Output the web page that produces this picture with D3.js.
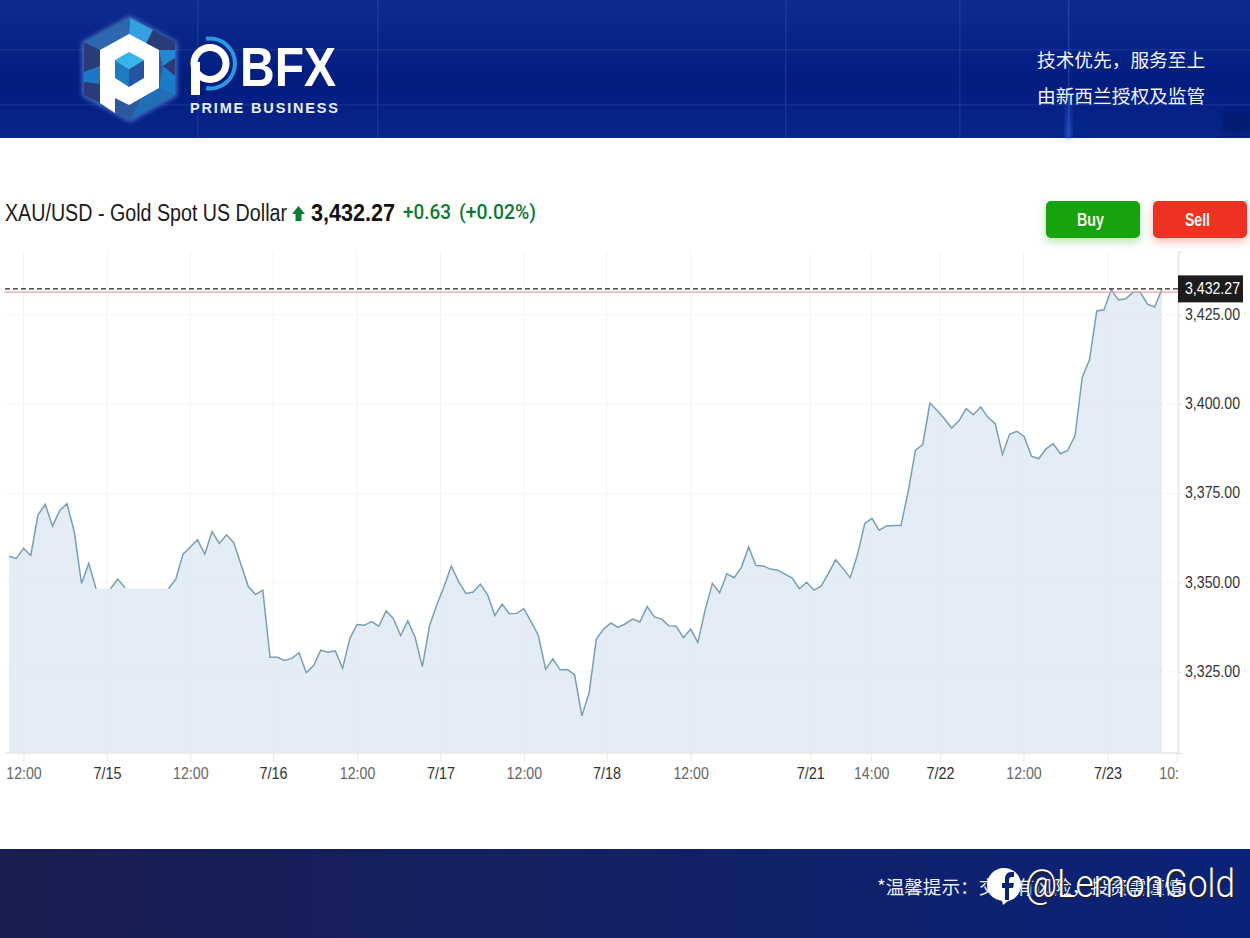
<!DOCTYPE html>
<html>
<head>
<meta charset="utf-8">
<script src="https://d3js.org/d3.v7.min.js"></script>
<style>
    body { margin: 0; background: #fff; }
    svg { display: block; }
    text { font-family: "Liberation Sans", Arial, sans-serif; }
</style>
</head>
<body>
<div id="chart"></div>
<script>
// Hourly XAU/USD closes
var priceValues = [
    3357.4, 3356.8, 3359.6, 3357.6, 3369.0, 3371.9, 3365.9, 3370.2, 3372.1, 3364.3,
    3349.8, 3355.4, 3348.3, 3348.3, 3348.3, 3351.0, 3348.6, 3348.3, 3348.3, 3348.3,
    3348.3, 3348.3, 3348.3, 3351.0, 3358.0, 3360.0, 3362.0, 3358.0, 3364.3, 3361.0,
    3363.4, 3361.2, 3355.0, 3348.9, 3346.7, 3347.9, 3329.1, 3329.1, 3328.2, 3328.8,
    3330.4, 3324.8, 3326.8, 3331.1, 3330.5, 3330.9, 3326.0, 3334.4, 3338.3, 3338.1,
    3339.1, 3337.8, 3342.1, 3340.0, 3335.2, 3339.3, 3334.7, 3326.5, 3338.0, 3343.8,
    3348.9, 3354.7, 3350.3, 3347.0, 3347.4, 3349.6, 3346.6, 3340.8, 3344.0, 3341.3,
    3341.4, 3342.7, 3339.1, 3335.2, 3325.8, 3328.7, 3325.6, 3325.7, 3324.2, 3312.7,
    3319.2, 3334.2, 3337.0, 3338.7, 3337.5, 3338.5, 3339.8, 3339.0, 3343.3, 3340.4,
    3339.8, 3337.9, 3337.8, 3334.6, 3337.0, 3333.3, 3342.4, 3349.8, 3347.2, 3352.5,
    3351.4, 3354.3, 3360.0, 3354.8, 3354.7, 3353.8, 3353.5, 3352.4, 3351.3, 3348.3,
    3350.1, 3347.9, 3349.0, 3352.6, 3356.4, 3354.0, 3351.4, 3357.8, 3366.5, 3368.0,
    3364.7, 3365.9, 3366.0, 3366.0, 3375.5, 3387.1, 3388.7, 3400.3, 3398.2, 3395.9,
    3393.3, 3395.3, 3398.7, 3397.0, 3399.2, 3396.3, 3394.5, 3385.9, 3391.6, 3392.4,
    3390.9, 3385.4, 3384.7, 3387.5, 3388.9, 3386.1, 3387.0, 3391.1, 3407.5, 3412.4,
    3426.1, 3426.4, 3432.0, 3429.2, 3429.5, 3431.3, 3431.3, 3428.0, 3427.2, 3432.27
];

// The stroke is missing over the flat stretch, only these index runs have one
var visibleRuns = [[0, 12], [14, 16], [22, 159]];

var xTickIndex = [2, 13.5, 25, 36.4, 48, 59.5, 71, 82.4, 94, 110.5, 118.9, 128.4, 139.9, 151.5, 161];
var xTickLabels = ["12:00", "7/15", "12:00", "7/16", "12:00", "7/17", "12:00", "7/18", "12:00", "7/21", "14:00", "7/22", "12:00", "7/23", "10:00"];
var yTickValues = [3325, 3350, 3375, 3400, 3425];

var lastPrice = 3432.27;
var prevLine = 3431.37;

// Full width comma and colon are written as escapes
var sloganLines = ["技术优先\uFF0C服务至上", "由新西兰授权及监管"];
var footerNote = "*温馨提示\uFF1A交易有风险\uFF0C投资需谨慎";

var svgWidth = 1250;
var svgHeight = 938;

var svg = d3.select("#chart")
    .append("svg")
    .attr("width", svgWidth)
    .attr("height", svgHeight);

var defs = svg.append("defs");

// Header background
var headGrad = defs.append("linearGradient")
    .attr("id", "headGrad")
    .attr("x1", 0).attr("y1", 0).attr("x2", 0).attr("y2", 1);
headGrad.append("stop").attr("offset", "0%").attr("stop-color", "#0b2c8e");
headGrad.append("stop").attr("offset", "60%").attr("stop-color", "#021c80");
headGrad.append("stop").attr("offset", "100%").attr("stop-color", "#08268a");

var footGrad = defs.append("linearGradient")
    .attr("id", "footGrad")
    .attr("x1", 0).attr("y1", 0).attr("x2", 1).attr("y2", 0);
footGrad.append("stop").attr("offset", "0%").attr("stop-color", "#1a1e50");
footGrad.append("stop").attr("offset", "100%").attr("stop-color", "#0a2278");

var glow = defs.append("linearGradient")
    .attr("id", "beam")
    .attr("x1", 0).attr("y1", 0).attr("x2", 0).attr("y2", 1);
glow.append("stop").attr("offset", "0%").attr("stop-color", "#2f62e0").attr("stop-opacity", 0);
glow.append("stop").attr("offset", "100%").attr("stop-color", "#2f62e0").attr("stop-opacity", 0.9);

var blur = defs.append("filter").attr("id", "blur").attr("x", "-30%").attr("y", "-30%").attr("width", "160%").attr("height", "160%");
blur.append("feGaussianBlur").attr("stdDeviation", 2.5);

var greenGlow = defs.append("filter").attr("id", "greenGlow").attr("x", "-20%").attr("y", "-30%").attr("width", "140%").attr("height", "190%");
greenGlow.append("feDropShadow").attr("dx", 0).attr("dy", 4).attr("stdDeviation", 4).attr("flood-color", "#12a30f").attr("flood-opacity", 0.3);
var redGlow = defs.append("filter").attr("id", "redGlow").attr("x", "-20%").attr("y", "-30%").attr("width", "140%").attr("height", "190%");
redGlow.append("feDropShadow").attr("dx", 0).attr("dy", 4).attr("stdDeviation", 4).attr("flood-color", "#ee3124").attr("flood-opacity", 0.3);

defs.append("clipPath").attr("id", "xClip")
    .append("rect").attr("x", 0).attr("y", -5).attr("width", 1178).attr("height", 60);

var header = svg.append("g");
header.append("rect").attr("width", svgWidth).attr("height", 138).attr("fill", "url(#headGrad)");

[197, 377, 785, 959, 1068].forEach(function(x) {
    header.append("rect").attr("x", x).attr("y", 0).attr("width", 1.5).attr("height", 138)
        .attr("fill", "#5b7fd6").attr("opacity", x == 1068 ? 0.3 : 0.2);
});
[49, 104].forEach(function(y) {
    header.append("rect").attr("x", 0).attr("y", y).attr("width", svgWidth).attr("height", 1.5)
        .attr("fill", "#5b7fd6").attr("opacity", 0.16);
});
header.append("rect").attr("x", 1066).attr("y", 85).attr("width", 5).attr("height", 53).attr("fill", "url(#beam)").attr("filter", "url(#blur)");
header.append("rect").attr("x", 1222).attr("y", 112).attr("width", 28).attr("height", 22).attr("fill", "#02125f").attr("opacity", 0.55).attr("filter", "url(#blur)");

// Logo hexagon and its facets
var logo = header.append("g");
logo.append("polygon").attr("points", "130,16 177,42 177,96 130,122 82,96 82,42")
    .attr("fill", "#7aa2ee").attr("opacity", 0.6).attr("filter", "url(#blur)");
logo.append("polygon").attr("points", "130,18 175,42 175,95 130,120 84,95 84,42").attr("fill", "#2a5ca8");
var facets = [
    ["130,18 153,30 146,44 129,35", "#35a0df"],
    ["153,30 175,42 175,50 159,50 146,44", "#2a3c78"],
    ["175,50 175,58 163,66 159,50", "#1f8ad0"],
    ["175,58 175,76 163,66", "#2a3c78"],
    ["175,76 175,95 159,88 163,66", "#1b7cc6"],
    ["175,95 130,120 140,100 159,88", "#1f6fb6"],
    ["130,120 115,112 115,100 129,105 140,100", "#2c5a9c"],
    ["84,42 100,50 100,66 84,72", "#2a3c78"],
    ["84,72 100,66 100,84 84,82", "#1e77c6"],
    ["84,82 100,84 100,103 84,95", "#2a3c78"],
    ["84,42 108,29 130,18 129,35 100,50", "#2d68ae"]
];
facets.forEach(function(f) {
    logo.append("polygon").attr("points", f[0]).attr("fill", f[1]);
});
logo.append("polygon")
    .attr("points", "129,34 159,50 159,88 129,105 115,98 115,113 100,103 100,50")
    .attr("fill", "#ffffff");
logo.append("polygon").attr("points", "129,52 144,60 129,69 115,60").attr("fill", "#35b6ea");
logo.append("polygon").attr("points", "115,60 129,69 129,87 115,78").attr("fill", "#1d7cc4");
logo.append("polygon").attr("points", "144,60 144,78 129,87 129,69").attr("fill", "#26549e");

// PBFX wordmark
var logoArc = d3.arc()
    .innerRadius(23).outerRadius(27)
    .startAngle(-0.05 * Math.PI).endAngle(1.05 * Math.PI);
header.append("path")
    .attr("d", logoArc())
    .attr("transform", "translate(210, 63.5)")
    .attr("fill", "#2a9be0");
header.append("circle").attr("cx", 210).attr("cy", 63.5).attr("r", 16)
    .attr("fill", "none").attr("stroke", "#ffffff").attr("stroke-width", 7);
header.append("rect").attr("x", 191).attr("y", 62).attr("width", 9).attr("height", 33).attr("fill", "#ffffff");
header.append("text").attr("x", 240).attr("y", 86)
    .attr("font-size", 56).attr("font-weight", "bold").attr("fill", "#fff")
    .attr("textLength", 96).attr("lengthAdjust", "spacingAndGlyphs")
    .text("BFX");
header.append("text").attr("x", 190).attr("y", 113)
    .attr("font-size", 14.5).attr("font-weight", "bold").attr("fill", "#e6ecfa")
    .attr("textLength", 148)
    .text("PRIME BUSINESS");

header.selectAll("text.slogan")
    .data(sloganLines)
    .enter()
    .append("text")
    .attr("x", 1037)
    .attr("y", (d, i) => 67 + i * 36)
    .attr("font-size", 18.7)
    .attr("fill", "#f2f4fb")
    .style("font-family", "'Noto Sans CJK SC', sans-serif")
    .text(d => d);

// Title row
svg.append("text").attr("x", 5).attr("y", 221)
    .attr("font-size", 23).attr("fill", "#1a1a1a")
    .attr("textLength", 282).attr("lengthAdjust", "spacingAndGlyphs")
    .text("XAU/USD - Gold Spot US Dollar");
svg.append("path")
    .attr("d", "M298.5,206 L305,214 L301.5,214 L301.5,221 L295.5,221 L295.5,214 L292,214 Z")
    .attr("fill", "#0b7a35");
svg.append("text").attr("x", 311).attr("y", 221)
    .attr("font-size", 24).attr("font-weight", "bold").attr("fill", "#111")
    .attr("textLength", 84).attr("lengthAdjust", "spacingAndGlyphs")
    .text(d3.format(",.2f")(lastPrice));
svg.append("text").attr("x", 403).attr("y", 219)
    .attr("font-size", 20).attr("fill", "#0b7a35")
    .attr("textLength", 48).attr("lengthAdjust", "spacingAndGlyphs")
    .style("font-family", "Roboto, sans-serif").style("font-weight", 500)
    .text("+0.63");
svg.append("text").attr("x", 459).attr("y", 219)
    .attr("font-size", 20).attr("fill", "#0b7a35")
    .attr("textLength", 77).attr("lengthAdjust", "spacingAndGlyphs")
    .style("font-family", "Roboto, sans-serif").style("font-weight", 500)
    .text("(+0.02%)");

// Buy / Sell buttons
var buttons = [
    { label: "Buy", x: 1046, w: 27, fill: "#12a30f", filter: "url(#greenGlow)" },
    { label: "Sell", x: 1153, w: 25, fill: "#ee3124", filter: "url(#redGlow)" }
];
buttons.forEach(function(b) {
    svg.append("rect").attr("x", b.x).attr("y", 201).attr("width", 94).attr("height", 37).attr("rx", 5)
        .attr("fill", b.fill).attr("filter", b.filter);
    svg.append("text").attr("x", b.x + 44.5).attr("y", 225.5)
        .attr("text-anchor", "middle").attr("font-size", 18).attr("font-weight", "bold")
        .attr("textLength", b.w).attr("lengthAdjust", "spacingAndGlyphs")
        .attr("fill", "#f4f6ea").text(b.label);
});

// Scales
var xScale = d3.scaleLinear()
    .domain([0, priceValues.length - 1])
    .range([9, 1162]);

var yScale = d3.scaleLinear()
    .domain([3302.3, 3442.6])
    .range([753, 252]);

var chartGroup = svg.append("g");

// Grid
chartGroup.selectAll("line.hgrid")
    .data(yTickValues)
    .enter()
    .append("line")
    .attr("x1", 5).attr("x2", 1178)
    .attr("y1", d => yScale(d)).attr("y2", d => yScale(d))
    .attr("stroke", "#f5f5f5");

chartGroup.selectAll("line.vgrid")
    .data(xTickIndex.slice(0, -1))
    .enter()
    .append("line")
    .attr("x1", d => xScale(d)).attr("x2", d => xScale(d))
    .attr("y1", 252).attr("y2", 753)
    .attr("stroke", "#f3f3f3");

// Area and line
var area = d3.area()
    .x((d, i) => xScale(i))
    .y0(yScale(3302.3))
    .y1(d => yScale(d));

chartGroup.append("path")
    .datum(priceValues)
    .attr("d", area)
    .attr("fill", "#d9e6f2")
    .attr("fill-opacity", 0.72);

var line = d3.line()
    .x(d => xScale(d.i))
    .y(d => yScale(d.v));

visibleRuns.forEach(function(run) {
    var pts = [];
    for (var i = run[0]; i <= run[1]; i++) {
        pts.push({ i: i, v: priceValues[i] });
    }
    chartGroup.append("path")
        .datum(pts)
        .attr("d", line)
        .attr("fill", "none")
        .attr("stroke", "#7a9fb4")
        .attr("stroke-width", 1.5);
});

// Axes
var bottomAxis = d3.axisBottom(xScale)
    .tickValues(xTickIndex)
    .tickFormat((d, i) => xTickLabels[i])
    .tickSize(9)
    .tickPadding(5);

var xAxisGroup = chartGroup.append("g")
    .attr("transform", "translate(0, 753)")
    .attr("clip-path", "url(#xClip)")
    .call(bottomAxis);

xAxisGroup.select(".domain").remove();
xAxisGroup.selectAll(".tick line").attr("stroke", "#e8e8e8");
xAxisGroup.selectAll(".tick text")
    .attr("font-size", 16.5)
    .attr("fill", (d, i) => xTickLabels[i].indexOf("/") > 0 ? "#333" : "#666")
    .attr("textLength", (d, i) => xTickLabels[i].length == 5 ? 35.5 : 28)
    .attr("lengthAdjust", "spacingAndGlyphs");

chartGroup.append("line")
    .attr("x1", 5).attr("x2", 1178).attr("y1", 753).attr("y2", 753)
    .attr("stroke", "#e3e8ec").attr("stroke-width", 1.5);

var rightAxis = d3.axisRight(yScale)
    .tickValues(yTickValues)
    .tickFormat(d3.format(",.2f"))
    .tickSize(4)
    .tickPadding(3);

var yAxisGroup = chartGroup.append("g")
    .attr("transform", "translate(1178, 0)")
    .call(rightAxis);

yAxisGroup.select(".domain").attr("stroke", "#e6e6e6").attr("stroke-width", 1.5);
yAxisGroup.selectAll(".tick line").attr("stroke", "#e6e6e6");
yAxisGroup.selectAll(".tick text")
    .attr("font-size", 16.5)
    .attr("dy", "0.27em")
    .attr("fill", "#333")
    .attr("textLength", 55)
    .attr("lengthAdjust", "spacingAndGlyphs");

// Reference line under the last price and the dashed last price line
chartGroup.append("line")
    .attr("x1", 5).attr("x2", 1178)
    .attr("y1", yScale(prevLine)).attr("y2", yScale(prevLine))
    .attr("stroke", "#e8a5ad").attr("stroke-width", 1.2);

chartGroup.append("line")
    .attr("x1", 5).attr("x2", 1178)
    .attr("y1", yScale(lastPrice)).attr("y2", yScale(lastPrice))
    .attr("stroke", "#222").attr("stroke-width", 1.2)
    .attr("stroke-dasharray", "5,3");

chartGroup.append("rect")
    .attr("x", 1178).attr("y", yScale(lastPrice) - 13.5)
    .attr("width", 65).attr("height", 27)
    .attr("fill", "#1c1c1c");

chartGroup.append("text")
    .attr("x", 1185).attr("y", yScale(lastPrice) + 5.5)
    .attr("font-size", 16.5).attr("fill", "#fff")
    .attr("textLength", 55).attr("lengthAdjust", "spacingAndGlyphs")
    .text(d3.format(",.2f")(lastPrice));

// Footer
svg.append("rect").attr("y", 849).attr("width", svgWidth).attr("height", 89).attr("fill", "url(#footGrad)");
svg.append("text")
    .attr("x", 877).attr("y", 894)
    .attr("font-size", 18.6).attr("fill", "#eef1fa")
    .style("font-family", "'Noto Sans CJK SC', sans-serif")
    .text(footerNote);

// Watermark on top of the footer text
var mark = svg.append("g");
mark.append("path")
    .attr("d", "M1004,868 C1014,868 1021,876 1021,885 C1021,894 1014,900 1008,901 L1003,905 L1002,901 C993,899 987,894 987,885 C987,876 994,868 1004,868 Z")
    .attr("fill", "#fff");
mark.append("path")
    .attr("d", "M1005,888 L1005,900 L1009,900 L1009,888 L1013,888 L1014,883 L1009,883 L1009,880 C1009,878 1010,877 1012,877 L1014,877 L1014,872 L1011,872 C1007,872 1005,875 1005,879 L1005,883 L1002,883 L1002,888 Z")
    .attr("fill", "#0a2278");
mark.append("text")
    .attr("x", 1026.5).attr("y", 898.5)
    .attr("font-size", 38).attr("fill", "#222")
    .style("font-family", "Roboto, sans-serif").style("font-weight", 300)
    .attr("textLength", 210).attr("lengthAdjust", "spacingAndGlyphs")
    .text("@LemonGold");
mark.append("text")
    .attr("x", 1025).attr("y", 897)
    .attr("font-size", 38).attr("fill", "#fff")
    .style("font-family", "Roboto, sans-serif").style("font-weight", 300)
    .attr("textLength", 210).attr("lengthAdjust", "spacingAndGlyphs")
    .text("@LemonGold");
</script>
</body>
</html>
